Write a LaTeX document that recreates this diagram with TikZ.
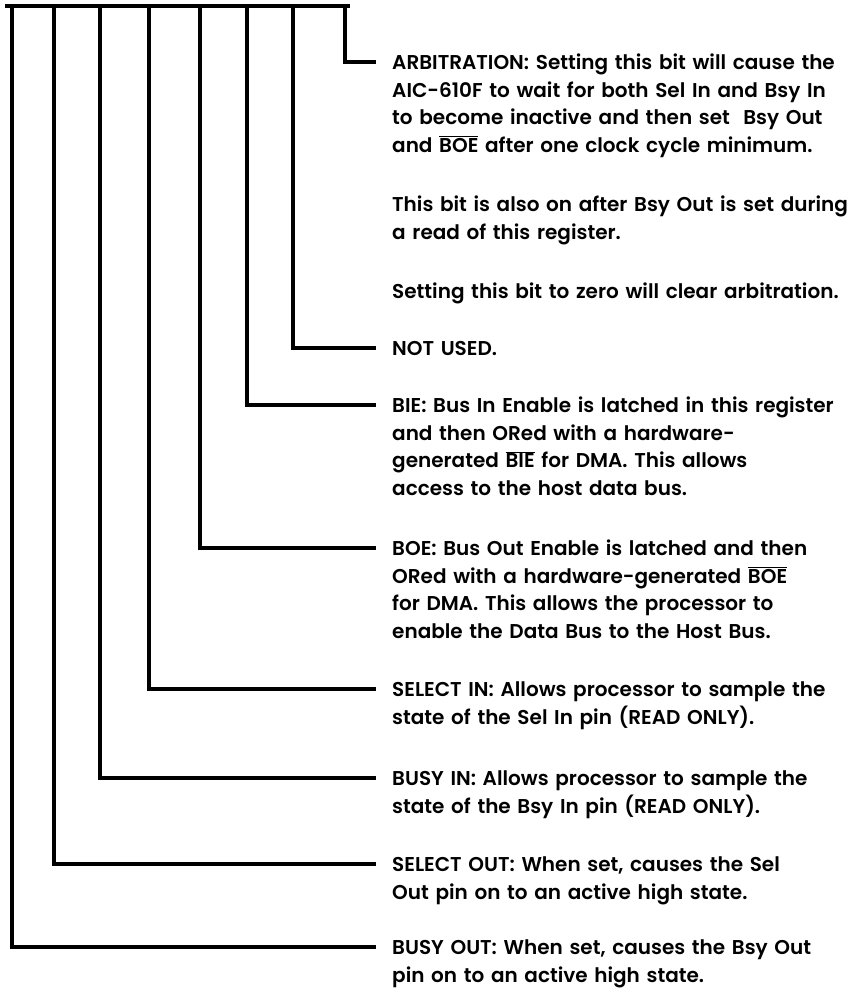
\documentclass[tikz,border=0pt]{standalone}
\usepackage{fontspec}
\setmainfont{Poppins}[UprightFont=* SemiBold]
\usetikzlibrary{positioning}
\newcommand{\ovl}[1]{$\overline{\mbox{#1}}$}

\begin{document}
\begin{tikzpicture}[
    x=1pt, y=-1pt,
    wire/.style={line width=3.2pt, line join=miter},
    desc/.style={anchor=base west, inner sep=0pt, text width=600pt, align=left, font=\fontsize{20}{27.5}\selectfont}
]
\useasboundingbox (0,0) rectangle (864,988);

% Register bits along the top bar
\coordinate (busl) at (5,6);
\coordinate (busr) at (350,6);
\coordinate (b0) at (12,6);
\coordinate (b1) at (54,6);
\coordinate (b2) at (100,6);
\coordinate (b3) at (149,6);
\coordinate (b4) at (200,6);
\coordinate (b5) at (247,6);
\coordinate (b6) at (293,6);
\coordinate (b7) at (345,6);
\draw[wire] (busl) -- (busr);

% Bit 7
\node[desc] (arb) at (392,69.5) {ARBITRATION: Setting this bit will cause the\\AIC-610F to wait for both Sel In and Bsy In\\to become inactive and then set\ \ Bsy Out\\and \ovl{BOE} after one clock cycle minimum.\\[32pt]This bit is also on after Bsy Out is set during\\a read of this register.\\[32pt]Setting this bit to zero will clear arbitration.};

% Bit 6
\node[desc] (notused) at (392,355.5) {NOT USED.};

% Bit 5
\node[desc] (bie) at (392,412.5) {BIE: Bus In Enable is latched in this register\\and then ORed with a hardware-\\generated \ovl{BIE} for DMA. This allows\\access to the host data bus.};

% Bit 4
\node[desc] (boe) at (392,555.5) {BOE: Bus Out Enable is latched and then\\ORed with a hardware-generated \ovl{BOE}\\for DMA. This allows the processor to\\enable the Data Bus to the Host Bus.};

% Bit 3
\node[desc] (selin) at (392,696.5) {SELECT IN: Allows processor to sample the\\state of the Sel In pin (READ ONLY).};

% Bit 2
\node[desc] (busyin) at (392,785.5) {BUSY IN: Allows processor to sample the\\state of the Bsy In pin (READ ONLY).};

% Bit 1
\node[desc] (selout) at (392,871.5) {SELECT OUT: When set, causes the Sel\\Out pin on to an active high state.};

% Bit 0
\node[desc] (busyout) at (392,954.5) {BUSY OUT: When set, causes the Bsy Out\\pin on to an active high state.};

% Leaders
\draw[wire] (b7) |- ([xshift=-16pt,yshift=7.5pt]arb.base west);
\draw[wire] (b6) |- ([xshift=-16pt,yshift=7.5pt]notused.base west);
\draw[wire] (b5) |- ([xshift=-16pt,yshift=7.5pt]bie.base west);
\draw[wire] (b4) |- ([xshift=-16pt,yshift=7.5pt]boe.base west);
\draw[wire] (b3) |- ([xshift=-16pt,yshift=7.5pt]selin.base west);
\draw[wire] (b2) |- ([xshift=-16pt,yshift=7.5pt]busyin.base west);
\draw[wire] (b1) |- ([xshift=-16pt,yshift=7.5pt]selout.base west);
\draw[wire] (b0) |- ([xshift=-16pt,yshift=7.5pt]busyout.base west);

\end{tikzpicture}
\end{document}
